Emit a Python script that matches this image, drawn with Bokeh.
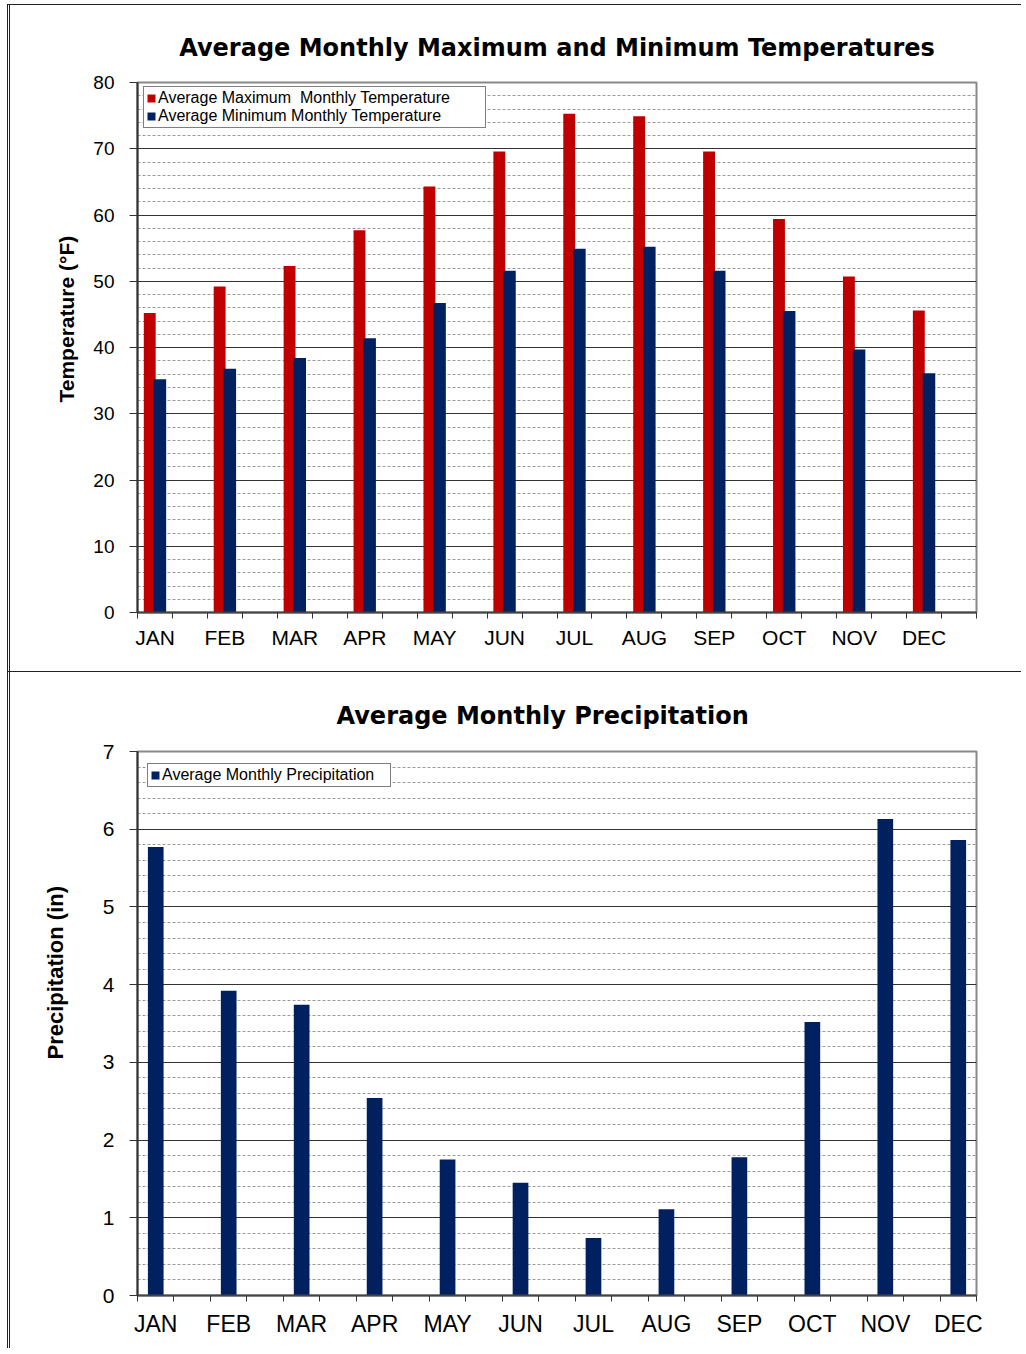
from bokeh.plotting import figure
from bokeh.models import FixedTicker, Legend, LegendItem, Range1d, Title
from bokeh.layouts import column
from bokeh.embed import file_html
from bokeh.resources import INLINE

# ---------------- data ----------------
months = ["JAN", "FEB", "MAR", "APR", "MAY", "JUN", "JUL", "AUG", "SEP", "OCT", "NOV", "DEC"]
temp_max = [45.2, 49.2, 52.3, 57.7, 64.3, 69.6, 75.3, 74.9, 69.6, 59.4, 50.7, 45.6]
temp_min = [35.2, 36.8, 38.4, 41.4, 46.7, 51.6, 54.9, 55.2, 51.6, 45.5, 39.7, 36.1]
precip = [5.77, 3.92, 3.74, 2.54, 1.75, 1.45, 0.74, 1.11, 1.78, 3.52, 6.13, 5.86]
temp_ticks = [0, 10, 20, 30, 40, 50, 60, 70, 80]
precip_ticks = [0, 1, 2, 3, 4, 5, 6, 7]

RED = "#C00000"
NAVY = "#002060"
FONT = "Liberation Sans"
TITLE_FONT = "DejaVu Sans"

# each month occupies every other slot on a numeric axis
slot_center = [2 * i + 0.5 for i in range(len(months))]


def style_common(p, n_slots, y_ticks, y_minor, tick_font, xlab_font, x_standoff):
    p.x_range = Range1d(0, n_slots)
    p.background_fill_color = "white"
    p.border_fill_color = "white"
    p.outline_line_color = "#888888"
    p.outline_line_width = 2

    xa = p.xaxis[0]
    xa.ticker = FixedTicker(ticks=slot_center, minor_ticks=list(range(n_slots + 1)))
    xa.major_label_overrides = {c: m for c, m in zip(slot_center, months)}
    xa.major_tick_out = 0
    xa.major_tick_in = 0
    xa.minor_tick_out = 6
    xa.minor_tick_in = 0
    xa.minor_tick_line_color = "#333333"
    xa.axis_line_color = "#444444"
    xa.axis_line_width = 2
    xa.major_label_text_font = FONT
    xa.major_label_text_font_size = xlab_font
    xa.major_label_text_color = "black"
    xa.major_label_standoff = x_standoff

    ya = p.yaxis[0]
    ya.ticker = FixedTicker(ticks=y_ticks, minor_ticks=y_minor)
    ya.major_tick_out = 8
    ya.major_tick_in = 0
    ya.minor_tick_out = 0
    ya.minor_tick_in = 0
    ya.major_tick_line_color = "#333333"
    ya.axis_line_color = "#333333"
    ya.axis_line_width = 2
    ya.major_label_text_font = FONT
    ya.major_label_text_font_size = tick_font
    ya.major_label_text_color = "black"
    ya.major_label_standoff = 15

    p.xgrid.visible = False
    p.ygrid.grid_line_color = "#333333"
    p.ygrid.grid_line_width = 1
    p.ygrid.minor_grid_line_color = "#9a9a9a"
    p.ygrid.minor_grid_line_dash = "3 2"
    p.ygrid.minor_grid_line_width = 1

    p.title.text_font = TITLE_FONT
    p.title.text_font_style = "bold"
    p.title.text_font_size = "24px"
    p.title.text_color = "black"


def y_title(p, text, size, offset, standoff):
    t = Title(text=text, align="left", offset=offset, standoff=standoff,
              vertical_align="top",
              text_font=FONT, text_font_style="bold", text_font_size=size,
              text_color="black")
    p.add_layout(t, "left")


BORDER = {"border-top": "1px solid #222222", "border-left": "3px double #222222"}

# ---------------- top chart ----------------
W = 1014
p1 = figure(
    width=W, height=667,
    title="Average Monthly Maximum and Minimum Temperatures",
    y_range=Range1d(0, 80),
    toolbar_location=None, output_backend="svg",
    min_border_left=127, min_border_right=44, min_border_top=77, min_border_bottom=60,
    styles=BORDER,
)
p1.margin = (4, 0, 0, 7)
style_common(p1, 24, temp_ticks, list(range(0, 81, 2)), "19px", "21px", 7)
p1.title.align = "center"
p1.title.standoff = 42
y_title(p1, "Temperature (°F)", "21px", 210, 21)

x_max = [c - 0.15 for c in slot_center]
x_min = [c + 0.14 for c in slot_center]
r_max = p1.vbar(x=x_max, top=temp_max, width=0.34, bottom=0, fill_color=RED, line_color=None)
r_min = p1.vbar(x=x_min, top=temp_min, width=0.36, bottom=0, fill_color=NAVY, line_color=None)

leg1 = Legend(
    items=[
        LegendItem(label="Average Maximum  Monthly Temperature", renderers=[r_max]),
        LegendItem(label="Average Minimum Monthly Temperature", renderers=[r_min]),
    ],
    location=(6, 484),
    label_width=325,
)
p1.add_layout(leg1)

# ---------------- bottom chart ----------------
p2 = figure(
    width=W, height=677,
    title="Average Monthly Precipitation",
    y_range=Range1d(0, 7),
    toolbar_location=None, output_backend="svg",
    min_border_left=126, min_border_right=48, min_border_top=79, min_border_bottom=54,
    styles=BORDER,
)
p2.margin = (0, 0, 0, 7)
style_common(p2, 23, precip_ticks, [i / 5 for i in range(36)], "21px", "23px", 9)
p2.title.align = "left"
p2.title.offset = 199
p2.title.standoff = 43
y_title(p2, "Precipitation (in)", "22px", 236, 59)

r_pr = p2.vbar(x=slot_center, top=precip, width=0.43, bottom=0, fill_color=NAVY, line_color=None)
leg2 = Legend(
    items=[LegendItem(label="Average Monthly Precipitation", renderers=[r_pr])],
    location=(10, 508),
    label_width=226,
)
p2.add_layout(leg2)

for lg in (leg1, leg2):
    lg.label_text_font = FONT
    lg.label_text_font_size = "16px"
    lg.label_text_color = "black"
    lg.glyph_width = 10
    lg.glyph_height = 10
    lg.label_standoff = 2
    lg.label_height = 16
    lg.spacing = 0
    lg.padding = 2
    lg.margin = 0
    lg.border_line_color = "black"
    lg.border_line_width = 1
    lg.background_fill_color = "white"
    lg.background_fill_alpha = 1

layout = column(p1, p2, spacing=0)
open("out.html", "w").write(file_html(layout, INLINE))
